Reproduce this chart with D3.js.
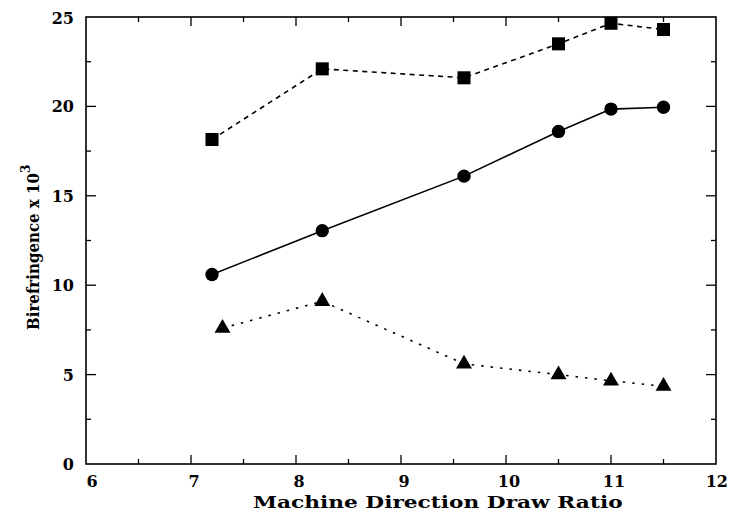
<!DOCTYPE html>
<html><head><meta charset="utf-8">
<script src="https://cdn.jsdelivr.net/npm/d3@7"></script>
<style>body{margin:0;background:#fff}</style>
</head><body>
<svg id="c" width="729" height="512"></svg>
<script>
const drawRatio = [7.2, 8.25, 9.6, 10.5, 11.0, 11.5];
const triRatio = [7.3, 8.25, 9.6, 10.5, 11.0, 11.5];
const squareVals = [18.15, 22.1, 21.6, 23.5, 24.65, 24.3];
const circleVals = [10.6, 13.05, 16.1, 18.6, 19.85, 19.95];
const triangleVals = [7.6, 9.1, 5.6, 5.0, 4.65, 4.35];
const xTicks = [6, 7, 8, 9, 10, 11, 12];
const yTicks = [0, 5, 10, 15, 20, 25];

const svg = d3.select("#c");
const L = 86, R = 716, T = 17, B = 464;
const x = d3.scaleLinear().domain([6, 12]).range([L, R]);
const y = d3.scaleLinear().domain([0, 25]).range([B, T]);
const font = "'DejaVu Serif', serif";

const g = svg.append("g");
g.append("rect").attr("x", L).attr("y", T).attr("width", R - L).attr("height", B - T)
  .attr("fill", "none").attr("stroke", "#000").attr("stroke-width", 1.6);

// ticks
const xMinor = d3.range(6.5, 12, 1);
const yMinor = d3.range(2.5, 25, 5);
const tk = (x1, y1, x2, y2) => g.append("line").attr("x1", x1).attr("y1", y1).attr("x2", x2).attr("y2", y2).attr("stroke", "#000").attr("stroke-width", 1.3);
xTicks.slice(1, -1).forEach(v => { tk(x(v), B, x(v), B - 9); tk(x(v), T, x(v), T + 9); });
xMinor.forEach(v => { tk(x(v), B, x(v), B - 5); tk(x(v), T, x(v), T + 5); });
yTicks.slice(1, -1).forEach(v => { tk(L, y(v), L + 10, y(v)); tk(R, y(v), R - 10, y(v)); });
yMinor.forEach(v => { tk(L, y(v), L + 5, y(v)); tk(R, y(v), R - 5, y(v)); });

// tick labels
g.selectAll(".xl").data(xTicks).join("text")
  .attr("x", d => d === 12 ? 728 : x(d) + (d === 6 ? 6 : 3)).attr("y", B + 23)
  .attr("text-anchor", d => d === 12 ? "end" : "middle")
  .attr("font-family", font).attr("font-weight", "bold").attr("font-size", 16).text(d => d);
g.selectAll(".yl").data(yTicks).join("text").attr("x", L - 12).attr("y", d => y(d) + 6 + (d === 25 ? 1 : 0))
  .attr("text-anchor", "end").attr("font-family", font).attr("font-weight", "bold").attr("font-size", 16).text(d => d);

// axis titles (stretched horizontally to match reference's wide typeface)
const xt = g.append("text").attr("font-family", font).attr("font-weight", "bold").attr("font-size", 16)
  .text("Machine Direction Draw Ratio");
const xw = xt.node().getComputedTextLength();
xt.attr("transform", `translate(253,508) scale(${370 / xw},1)`);

const yl = g.append("text").attr("font-family", font).attr("font-weight", "bold").attr("font-size", 16);
const yMain = yl.append("tspan").text("Birefringence x 10");
yl.append("tspan").attr("dy", -9).attr("font-size", 13).text("3");
const yw = yMain.node().getComputedTextLength();
yl.attr("transform", `translate(39,330) rotate(-90) scale(${157 / yw},1)`);

const line = d3.line().x(d => x(d[0])).y(d => y(d[1]));
const series = [
  { xs: drawRatio, ys: squareVals, dash: "5,4.5", sym: d3.symbolSquare, size: 170 },
  { xs: drawRatio, ys: circleVals, dash: null, sym: d3.symbolCircle, size: 140 },
  { xs: triRatio, ys: triangleVals, dash: "2.5,7", sym: d3.symbolTriangle, size: 110 }
];
series.forEach(s => {
  const pts = s.xs.map((v, i) => [v, s.ys[i]]);
  g.append("path").attr("d", line(pts)).attr("fill", "none").attr("stroke", "#000")
    .attr("stroke-width", 1.6).attr("stroke-dasharray", s.dash);
  g.selectAll(null).data(pts).join("path")
    .attr("transform", d => `translate(${x(d[0])},${y(d[1])})`)
    .attr("d", d3.symbol().type(s.sym).size(s.size)).attr("fill", "#000");
});
</script>
</body></html>
